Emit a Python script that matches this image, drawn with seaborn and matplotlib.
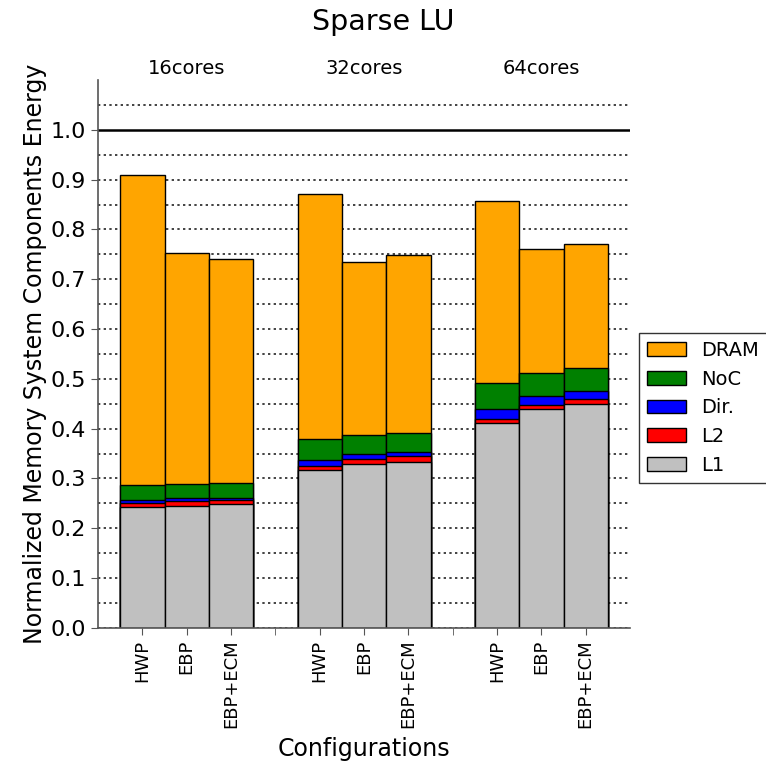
import numpy as np
import pandas as pd
import matplotlib
matplotlib.use("Agg")
import matplotlib.pyplot as plt
from matplotlib.patches import Patch
import seaborn as sns

# Energy breakdown per configuration (normalized), one list per component
groups = ["16cores", "32cores", "64cores"]
configs = ["HWP", "EBP", "EBP+ECM"]
components = ["L1", "L2", "Dir.", "NoC", "DRAM"]
colors = {"L1": "#c0c0c0", "L2": "#ff0000", "Dir.": "#0000ff",
          "NoC": "#008000", "DRAM": "#ffa500"}

l1 = [0.242, 0.245, 0.248, 0.317, 0.329, 0.333, 0.411, 0.439, 0.450]
l2 = [0.008, 0.010, 0.009, 0.009, 0.010, 0.012, 0.009, 0.009, 0.010]
dirc = [0.006, 0.005, 0.004, 0.011, 0.010, 0.009, 0.019, 0.017, 0.016]
noc = [0.031, 0.029, 0.029, 0.042, 0.038, 0.038, 0.053, 0.047, 0.046]
dram = [0.623, 0.464, 0.451, 0.492, 0.348, 0.357, 0.365, 0.249, 0.249]

values = {"L1": l1, "L2": l2, "Dir.": dirc, "NoC": noc, "DRAM": dram}

# bar positions: three bars per group with one empty slot between groups
pos = [g * 4 + c + 1 for g in range(len(groups)) for c in range(len(configs))]
df = pd.DataFrame({"pos": pos})
cum = np.zeros(len(pos))
for comp in components:
    cum = cum + np.array(values[comp])
    df[comp] = cum

fig = plt.figure(figsize=(7.66, 7.62), dpi=100)
ax = fig.add_axes([0.128, 0.176, 0.6945, 0.719])

# dotted reference lines every 0.05, solid line at 1.0
dot = (0, (1.4, 2.0))
for y in np.arange(0.0, 1.051, 0.05):
    if abs(y - 1.0) < 1e-9:
        ax.axhline(1.0, color="black", lw=1.8, zorder=0)
    else:
        ax.axhline(y, color="#222222", lw=1.2, ls=dot, zorder=0)

# stacked bars drawn as cumulative totals, top layer first
for comp in components[::-1]:
    sns.barplot(data=df, x="pos", y=comp, native_scale=True, width=1.0,
                color=colors[comp], saturation=1, edgecolor="black",
                linewidth=1.0, errorbar=None, ax=ax, zorder=2)

ax.set_xlim(0, 12)
ax.set_ylim(0, 1.1)
ax.set_yticks(np.arange(0, 1.01, 0.1))
ax.set_yticklabels([f"{v:.1f}" for v in np.arange(0, 1.01, 0.1)], fontsize=16)
ax.set_xticks(pos)
ax.set_xticklabels(configs * len(groups), rotation=90, fontsize=13)
ax.set_xticks([4, 8], minor=True)
ax.tick_params(axis="x", which="both", direction="out", length=5, color="#555555")
ax.tick_params(axis="y", direction="out", length=5, color="#555555")

for s in ["top", "right"]:
    ax.spines[s].set_visible(False)
for s in ["left", "bottom"]:
    ax.spines[s].set_color("#555555")
    ax.spines[s].set_linewidth(1.2)

for g, name in enumerate(groups):
    ax.text(g * 4 + 2, 1.105, name, ha="center", va="bottom", fontsize=14)

ax.set_xlabel("Configurations", fontsize=17, labelpad=6)
ax.set_ylabel("Normalized Memory System Components Energy", fontsize=17, labelpad=3)
fig.suptitle("Sparse LU", fontsize=20.5, y=0.99)

handles = [Patch(facecolor=colors[c], edgecolor="black", label=c)
           for c in components[::-1]]
leg = ax.legend(handles=handles, loc="upper left", bbox_to_anchor=(1.017, 0.538),
                fontsize=14, fancybox=False, frameon=True, borderaxespad=0,
                handlelength=2.0, handletextpad=0.8, labelspacing=0.5)
leg.get_frame().set_edgecolor("black")
leg.get_frame().set_linewidth(1.0)

fig.savefig("out.png", dpi=100)
